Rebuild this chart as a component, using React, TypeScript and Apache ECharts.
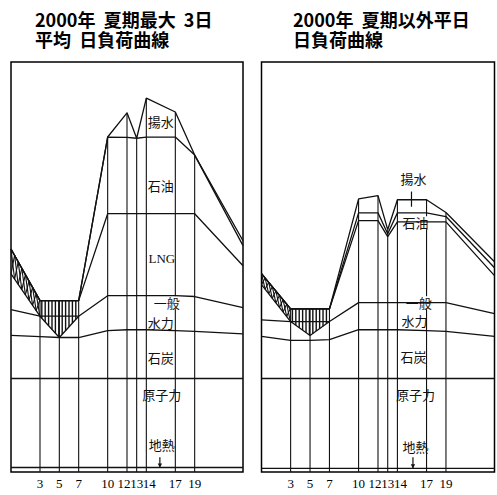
import React, { useEffect, useRef } from "react";
import * as echarts from "echarts";

// hours at which the load curves have vertices
const hours = [0, 3, 5, 7, 10, 12, 13, 14, 17, 19, 24];
const tickHours = [3, 5, 7, 10, 12, 13, 14, 17, 19];
const pumpHours = [0, 3, 5, 7];

const titleLeft = ["2000年  夏期最大  3日", "平均  日負荷曲線"];
const titleRight = ["2000年  夏期以外平日", "日負荷曲線"];

// ---- 夏期最大3日平均 (relative load, frame height = 100) ----
const peakTop = [54.4, 41.8, 41.8, 41.8, 81.7, 87.6, 81.4, 91.2, 87.8, 77.3, 56.4];
const peakOil = [54.4, 41.8, 41.8, 41.8, 81.7, 81.6, 81.4, 81.7, 81.7, 77.3, 55.2];
const peakLng = [54.4, 41.8, 41.8, 41.8, 63.0, 63.0, 63.0, 63.0, 63.0, 63.0, 50.3];
const peakHydro = [39.6, 38.0, 38.0, 38.0, 43.0, 43.0, 43.0, 43.0, 43.0, 42.8, 40.1];
const peakCoal = [33.3, 33.0, 32.8, 32.8, 34.5, 34.7, 34.7, 34.7, 34.5, 34.3, 33.7];
const peakNuclear = [22.8, 22.8, 22.8, 22.8, 22.8, 22.8, 22.8, 22.8, 22.8, 22.8, 22.8];
const peakGeo = [1.1, 1.1, 1.1, 1.1, 1.1, 1.1, 1.1, 1.1, 1.1, 1.1, 1.1];
const peakPumpUpper = [54.4, 41.8, 41.8, 41.8];
const peakPumpLower = [48.3, 38.0, 32.8, 38.0];

// ---- 夏期以外平日 ----
const offTop = [48.4, 39.8, 39.8, 39.8, 66.6, 67.4, 59.1, 66.4, 66.4, 63.3, 51.3];
const offOil = [48.4, 39.8, 39.8, 39.8, 63.2, 63.2, 58.1, 63.2, 63.2, 62.3, 49.8];
const offLng = [48.4, 39.8, 39.8, 39.8, 61.3, 61.3, 57.4, 61.0, 61.0, 61.0, 47.9];
const offHydro = [37.1, 36.7, 36.7, 36.7, 41.3, 41.3, 41.3, 41.3, 41.3, 41.3, 38.6];
const offCoal = [33.1, 32.1, 32.1, 32.3, 34.7, 34.7, 34.7, 34.7, 34.5, 34.3, 33.1];
const offNuclear = [22.8, 22.8, 22.8, 22.8, 22.8, 22.8, 22.8, 22.8, 22.8, 22.8, 22.8];
const offGeo = [0.9, 0.9, 0.9, 0.9, 0.9, 0.9, 0.9, 0.9, 0.9, 0.9, 0.9];
const offPumpUpper = [48.4, 39.8, 39.8, 39.8];
const offPumpLower = [45.7, 36.7, 33.3, 36.7];

// band labels: [text, hour, value]
const peakLabels: [string, number, number][] = [
  ["揚水", 15.5, 85.5],
  ["石油", 15.5, 70.0],
  ["LNG", 15.6, 52.0],
  ["一般", 16.1, 41.3],
  ["水力", 15.5, 36.4],
  ["石炭", 15.5, 27.9],
  ["原子力", 15.6, 18.9],
  ["地熱", 15.6, 6.7],
];
const offLabels: [string, number, number][] = [
  ["揚水", 15.65, 71.7],
  ["石油", 15.85, 60.8],
  ["一般", 16.2, 41.3],
  ["水力", 15.75, 37.0],
  ["石炭", 15.65, 28.1],
  ["原子力", 15.85, 18.9],
  ["地熱", 15.85, 6.3],
];
// pointer lines: [hour, fromValue, toValue]
const peakPointers: [number, number, number][] = [[15.4, 3.6, 1.1]];
const offPointers: [number, number, number][] = [
  [15.45, 68.4, 64.7],
  [15.6, 3.6, 0.9],
];

const INK = "#111";

function interp(xs: number[], ys: number[], x: number) {
  for (let i = 0; i < xs.length - 1; i++) {
    if (x >= xs[i] && x <= xs[i + 1]) {
      const t = (x - xs[i]) / (xs[i + 1] - xs[i]);
      return ys[i] + t * (ys[i + 1] - ys[i]);
    }
  }
  return ys[ys.length - 1];
}

function seg(a: number[], b: number[], w = 1.2) {
  return {
    type: "line",
    shape: { x1: a[0], y1: a[1], x2: b[0], y2: b[1] },
    style: { stroke: INK, lineWidth: w },
  };
}

function panelSeries(
  gi: number,
  lines: number[][],
  pumpUpper: number[],
  pumpLower: number[],
  top: number[],
  labels: [string, number, number][],
  pointers: [number, number, number][]
) {
  const base = { xAxisIndex: gi, yAxisIndex: gi };
  const out: any[] = [];
  lines.forEach((vals) => {
    out.push({
      ...base,
      type: "line",
      data: hours.map((h, i) => [h, vals[i]]),
      symbol: "none",
      lineStyle: { color: INK, width: 1.3 },
      silent: true,
    });
  });
  // demand line under pumping
  out.push({
    ...base,
    type: "line",
    data: pumpHours.map((h, i) => [h, pumpLower[i]]),
    symbol: "none",
    lineStyle: { color: INK, width: 1.3 },
    silent: true,
  });
  // vertical hour lines
  out.push({
    ...base,
    type: "custom",
    clip: false,
    silent: true,
    data: tickHours.map((h) => [h, interp(hours, top, h)]),
    renderItem: (_p: any, api: any) => {
      const a = api.coord([api.value(0), 0]);
      const b = api.coord([api.value(0), api.value(1)]);
      return seg(a, b, 1.1);
    },
  });
  // hatching of pumping power
  out.push({
    ...base,
    type: "custom",
    clip: false,
    silent: true,
    data: [[0, 0]],
    renderItem: (_p: any, api: any) => {
      const children: any[] = [];
      const x0 = api.coord([0, 0])[0];
      const x3 = api.coord([3, 0])[0];
      const x7 = api.coord([7, 0])[0];
      const hourAt = (px: number) => ((px - x0) / (x3 - x0)) * 3;
      const up = (h: number) => api.coord([h, interp(pumpHours, pumpUpper, h)]);
      const lo = (h: number) => api.coord([h, interp(pumpHours, pumpLower, h)]);
      const s = 3.6;
      for (let px = x0; px < x3 - 0.5; px += s) {
        const h1 = hourAt(px);
        const h2 = hourAt(Math.min(px + s, x3));
        children.push(seg(up(h1), lo(h2), 1.1));
        children.push(seg(lo(h1), up(h2), 1.1));
      }
      for (let px = x3 + 1.8; px < x7 - 0.5; px += 3.4) {
        const h = hourAt(px);
        const a = up(h);
        const b = lo(h);
        if (b[1] - a[1] > 0.5) children.push(seg(a, b, 1.4));
      }
      return { type: "group", children };
    },
  });
  // labels
  out.push({
    ...base,
    type: "custom",
    clip: false,
    silent: true,
    data: labels.map((l, i) => [l[1], l[2], i]),
    renderItem: (_p: any, api: any) => {
      const p = api.coord([api.value(0), api.value(1)]);
      const text = labels[api.value(2)][0];
      const latin = /^[A-Z]+$/.test(text);
      return {
        type: "text",
        x: p[0],
        y: p[1],
        style: {
          text,
          fill: INK,
          fontSize: 13,
          fontFamily: latin ? "Liberation Serif" : "Noto Sans CJK JP",
          align: "center",
          verticalAlign: "middle",
          backgroundColor: text === "一般" || text === "石油" ? "#fff" : undefined,
        },
      };
    },
  });
  // pointers / arrows
  out.push({
    ...base,
    type: "custom",
    clip: false,
    silent: true,
    data: pointers.map((p) => [p[0], p[1], p[2]]),
    renderItem: (_p: any, api: any) => {
      const a = api.coord([api.value(0), api.value(1)]);
      const b = api.coord([api.value(0), api.value(2)]);
      const children: any[] = [seg(a, b, 1.2)];
      if (api.value(1) < 10) {
        children.push({
          type: "polygon",
          shape: { points: [[b[0] - 2.2, b[1] - 4], [b[0] + 2.2, b[1] - 4], [b[0], b[1]]] },
          style: { fill: INK },
        });
      }
      return { type: "group", children };
    },
  });
  return out;
}

export default function App() {
  const ref = useRef<HTMLDivElement>(null);
  useEffect(() => {
    if (!ref.current) return;
    const chart = echarts.init(ref.current, null, { renderer: "svg" });
    const titleFont = {
      fontSize: 18,
      lineHeight: 20,
      fontWeight: "bold",
      fontFamily: "Noto Sans CJK JP",
      fill: "#000",
      verticalAlign: "top",
    };
    const tickFont = { fontSize: 13, fontFamily: "Liberation Serif", color: "#000" };
    const xAxisBase = {
      type: "value",
      min: 0,
      max: 24,
      interval: 1,
      axisLine: { show: false },
      axisTick: { show: false },
      splitLine: { show: false },
      axisLabel: {
        show: true,
        margin: 5,
        ...tickFont,
        showMinLabel: false,
        showMaxLabel: false,
        formatter: (v: number) => {
          if (!tickHours.includes(v)) return "";
          // squeezed neighbours 12-13-14 are spread apart slightly, as printed
          if (v === 12) return "{l|" + v + "}";
          if (v === 14) return "{r|" + v + "}";
          return String(v);
        },
        rich: {
          l: { ...tickFont, padding: [0, 6, 0, 0] },
          r: { ...tickFont, padding: [0, 0, 0, 6] },
        },
      },
    };
    const yAxisBase = { type: "value", min: 0, max: 100, show: false };
    const gridBase = { top: 62, height: 410, show: true, borderColor: "#000", borderWidth: 1.5, backgroundColor: "#fff" };
    chart.setOption({
      animation: false,
      grid: [
        { ...gridBase, left: 11, width: 232 },
        { ...gridBase, left: 261.5, width: 233 },
      ],
      xAxis: [
        { ...xAxisBase, gridIndex: 0 },
        { ...xAxisBase, gridIndex: 1 },
      ],
      yAxis: [
        { ...yAxisBase, gridIndex: 0 },
        { ...yAxisBase, gridIndex: 1 },
      ],
      graphic: [
        { type: "text", x: 35, y: 9, style: { ...titleFont, text: titleLeft.join("\n") } },
        { type: "text", x: 293, y: 9, style: { ...titleFont, text: titleRight.join("\n") } },
      ],
      series: [
        ...panelSeries(
          0,
          [peakTop, peakOil, peakLng, peakHydro, peakCoal, peakNuclear, peakGeo],
          peakPumpUpper,
          peakPumpLower,
          peakTop,
          peakLabels,
          peakPointers
        ),
        ...panelSeries(
          1,
          [offTop, offOil, offLng, offHydro, offCoal, offNuclear, offGeo],
          offPumpUpper,
          offPumpLower,
          offTop,
          offLabels,
          offPointers
        ),
      ],
    });
    return () => chart.dispose();
  }, []);
  return (
    <div
      ref={ref}
      style={{ position: "fixed", left: 0, top: 0, width: 497, height: 495, background: "#fff" }}
    />
  );
}
